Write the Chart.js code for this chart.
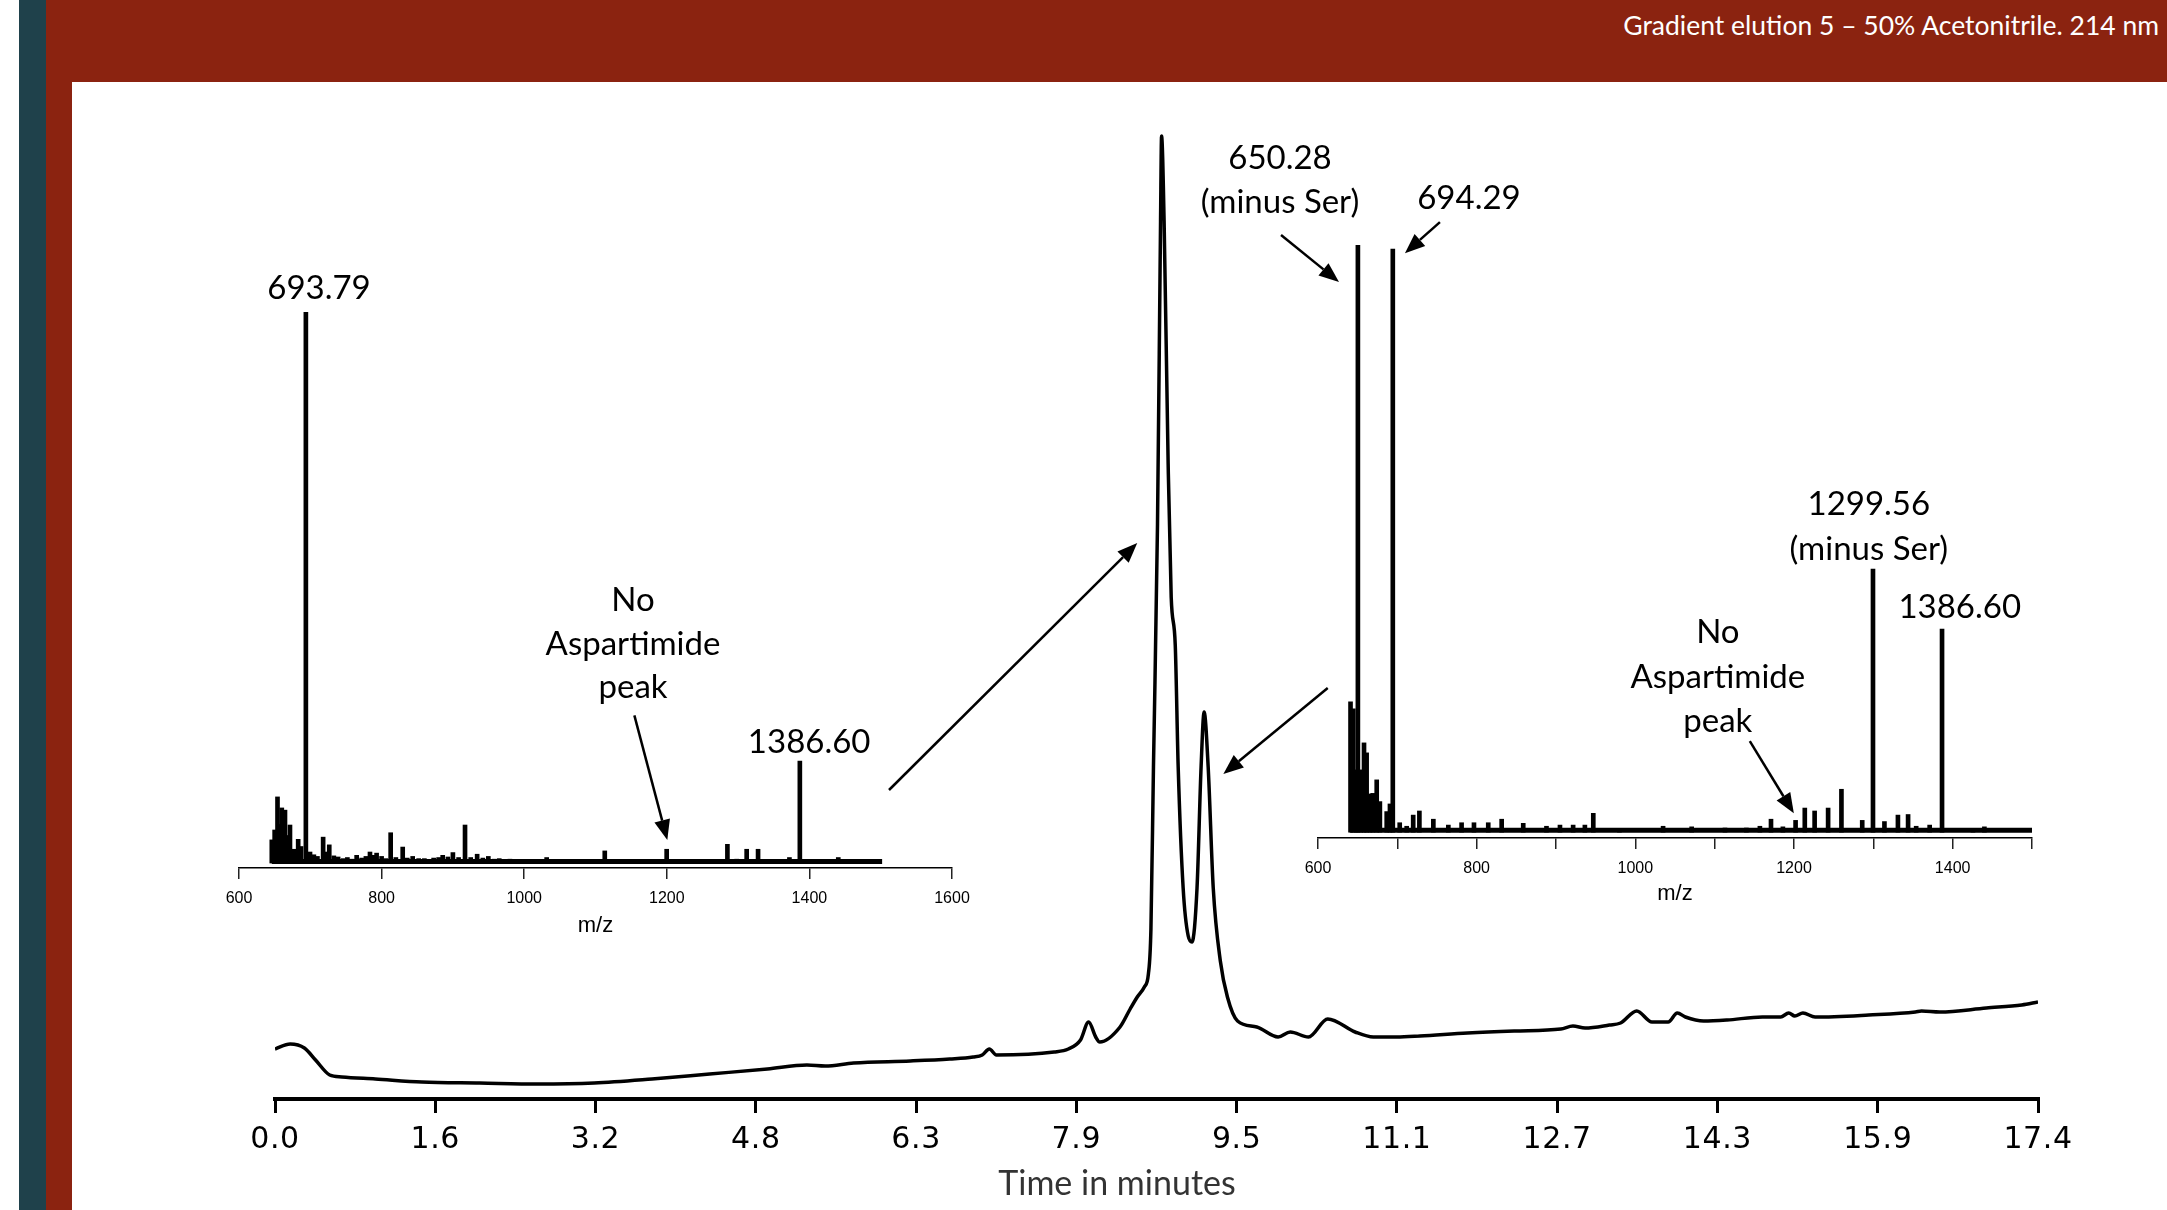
<!DOCTYPE html>
<html>
<head>
<meta charset="utf-8">
<script src="https://cdn.jsdelivr.net/npm/chart.js@4.4.1/dist/chart.umd.min.js"></script>
<style>
  html, body { margin: 0; padding: 0; background: #fff; width: 2167px; height: 1210px; overflow: hidden; }
  .strip-teal { position: absolute; left: 19px; top: 0; width: 27px; height: 1210px; background: #1f414b; }
  .strip-red { position: absolute; left: 46px; top: 0; width: 26px; height: 1210px; background: #8b2310; }
  .header { position: absolute; left: 46px; top: 0; width: 2121px; height: 82px; background: #8b2310; }
  .subtitle { position: absolute; right: 8px; top: 9px; color: #fff; font: 26.5px Lato, sans-serif; }
  canvas { position: absolute; }
</style>
</head>
<body>
<div class="strip-teal"></div>
<div class="strip-red"></div>
<div class="header"><div class="subtitle">Gradient elution 5 – 50% Acetonitrile. 214 nm</div></div>
<canvas id="mainChart" width="2167" height="1210" style="left:0;top:0"></canvas>
<canvas id="leftSpec" width="800" height="720" style="left:200px;top:250px"></canvas>
<canvas id="rightSpec" width="930" height="800" style="left:1150px;top:120px"></canvas>
<script>
// HPLC trace (time in minutes, absorbance in arbitrary units)
const timeMin = [0.00, 0.15, 0.29, 0.40, 0.54, 0.66, 0.99, 1.45, 2.02, 2.59, 3.15, 3.72, 4.29, 4.86, 5.25, 5.43, 5.71,
  6.27, 6.66, 6.89, 6.98, 7.05, 7.12, 7.69, 7.83, 7.95, 8.03, 8.10, 8.14, 8.34, 8.44, 8.51, 8.58, 8.62, 8.645, 8.67,
  8.71, 8.74, 8.75, 8.775, 8.815, 8.845, 8.885, 8.914, 8.963, 9.013, 9.05, 9.10, 9.14, 9.17, 9.21, 9.26, 9.33, 9.40,
  9.50, 9.69, 9.90, 10.02, 10.20, 10.39, 10.66, 10.84, 11.07, 11.30, 11.77, 12.23, 12.69, 12.81, 12.93, 13.17,
  13.28, 13.44, 13.59, 13.75, 13.84, 13.92, 14.10, 14.33, 14.68, 14.86, 14.94, 15.00, 15.08, 15.20, 15.73,
  16.19, 16.25, 16.43, 16.89, 17.24, 17.40];
const absorbance = [50, 55, 51, 39, 24, 22, 20, 17, 16, 15, 16, 20, 25, 30, 34, 33, 36,
  38, 40, 42, 44, 50, 44, 47, 50, 59, 77, 62, 57, 72, 90, 102, 112, 125, 170, 332,
  575, 878, 963, 878, 635, 502, 454, 332, 211, 163, 157, 211, 332, 387, 332, 211, 138, 102,
  78, 72, 62, 67, 62, 80, 67, 62, 62, 63, 66, 68, 70, 73, 71, 74,
  76, 88, 77, 77, 86, 82, 78, 79, 82, 82, 86, 83, 86, 82, 84,
  87, 88, 87, 91, 94, 97];
const timeTickLabels = ['0.0', '1.6', '3.2', '4.8', '6.3', '7.9', '9.5', '11.1', '12.7', '14.3', '15.9', '17.4'];

// mass spectrum of the first peak
const leftMz = [646, 650, 654, 657, 660, 664.5, 668, 671.5, 677, 683, 687, 693.79, 699.6, 705, 710, 718, 722, 726.6,
  733, 739, 746, 752, 758, 765, 772, 778, 783.7, 788, 793, 800, 806, 812.7, 820, 829.6, 836, 843.6, 852, 860, 873,
  880, 885.7, 893, 900, 908, 917, 925, 934, 942, 949.7, 958, 965, 980, 993, 1000, 1015, 1031.5, 1045, 1060, 1080,
  1095, 1113, 1125, 1140, 1170, 1185, 1199.8, 1215, 1230, 1245, 1260, 1272, 1285, 1298, 1312, 1328, 1345, 1360,
  1372, 1386.6, 1398, 1410, 1425, 1440.5, 1455, 1470, 1488];
const leftIntensity = [4.2, 6, 12.0, 7, 10, 9.6, 5, 6.9, 2.5, 4.3, 3, 100, 2, 1.5, 1.2, 4.7, 2, 3.3,
  1.3, 1.1, 0.8, 1.0, 0.7, 1.4, 0.9, 1.2, 2, 1.4, 1.8, 1.2, 0.8, 5.5, 1.0, 2.9, 0.9, 1.2, 0.8, 0.8, 0.9,
  1.0, 1.4, 1.1, 1.9, 1.0, 6.9, 1.0, 1.6, 0.9, 1.2, 0.7, 0.8, 0.7, 0.6, 0.6, 0.6, 1.0, 0.5, 0.6, 0.6,
  0.5, 2.2, 0.5, 0.6, 0.6, 0.5, 2.5, 0.5, 0.6, 0.5, 0.6, 0.5, 3.4, 0.7, 2.5, 2.5, 0.6, 0.6,
  1.0, 18.5, 0.6, 0.6, 0.5, 1.0, 0.5, 0.5, 0.4];
const leftRange = [646, 1502];

// mass spectrum of the second peak
const rightMz = [641, 644.5, 648, 650.28, 653.8, 658, 661.3, 665.5, 669, 674, 678, 686.6, 690.7, 694.29, 703, 711.8,
  720, 727.8, 745.4, 764.3, 781, 796.6, 814.6, 831.5, 858.7, 888, 905, 921.6, 936.4, 947, 980, 1035, 1071, 1113,
  1140, 1157, 1171, 1186, 1202, 1213.6, 1226, 1243, 1259.8, 1286, 1299.56, 1314, 1331, 1343.8, 1354, 1371,
  1386.6, 1425.6, 1440];
const rightIntensity = [22.2, 21, 10.6, 100, 10.6, 15.2, 13.5, 6.5, 6.6, 8.9, 5.2, 3.5, 4.8, 99.3, 1.6, 1.0,
  2.9, 3.6, 2.2, 1.2, 1.6, 1.6, 1.6, 2.2, 1.5, 1.0, 1.2, 1.2, 1.2, 3.2, 0.6, 1.0, 0.9, 0.7,
  0.7, 1.0, 2.2, 0.9, 2.0, 4.1, 3.6, 4.1, 7.3, 2.0, 44.8, 1.8, 2.9, 3.0, 1.0, 1.2,
  34.6, 0.5, 0.9];
const rightRange = [640, 1501];

Chart.defaults.font.family = 'Lato, sans-serif';
Chart.defaults.color = '#000';
Chart.defaults.animation = false;

function drawArrow(ctx, x1, y1, x2, y2) {
  const ang = Math.atan2(y2 - y1, x2 - x1);
  const len = 20, half = 8;
  const bx = x2 - len * Math.cos(ang), by = y2 - len * Math.sin(ang);
  ctx.beginPath();
  ctx.moveTo(x1, y1);
  ctx.lineTo(bx, by);
  ctx.stroke();
  ctx.beginPath();
  ctx.moveTo(x2, y2);
  ctx.lineTo(bx + half * Math.sin(ang), by - half * Math.cos(ang));
  ctx.lineTo(bx - half * Math.sin(ang), by + half * Math.cos(ang));
  ctx.closePath();
  ctx.fill();
}

// labels and arrows, placed in each chart's own data coordinates
const notesPlugin = {
  id: 'notes',
  afterDraw(chart) {
    const cfg = chart.options.plugins.notes;
    if (!cfg) return;
    const { ctx, scales: { x, y } } = chart;
    ctx.save();
    ctx.letterSpacing = '0px';
    ctx.fillStyle = '#000';
    ctx.strokeStyle = '#000';
    ctx.lineWidth = 2.5;
    ctx.textAlign = 'center';
    ctx.textBaseline = 'middle';
    (cfg.texts || []).forEach(t => {
      ctx.font = t[3] || '33px Lato, sans-serif';
      ctx.fillStyle = t[4] || '#000';
      ctx.fillText(t[0], x.getPixelForValue(t[1]), y.getPixelForValue(t[2]));
    });
    ctx.fillStyle = '#000';
    (cfg.arrows || []).forEach(a => drawArrow(ctx, x.getPixelForValue(a[0]), y.getPixelForValue(a[1]),
      x.getPixelForValue(a[2]), y.getPixelForValue(a[3])));
    ctx.restore();
  }
};

// the time labels are widely spaced in the original
const tickFont = '30px "DejaVu Sans", sans-serif';
const spacingPlugin = {
  id: 'spacing',
  beforeDraw(chart) {
    const ctx = chart.ctx;
    ctx.font = tickFont;
    const w = ctx.measureText('0.0').width;
    ctx.letterSpacing = Math.max(0, (49 - w) / 2).toFixed(1) + 'px';
  },
  afterDraw(chart) { chart.ctx.letterSpacing = '0px'; }
};

new Chart(document.getElementById('mainChart'), {
  type: 'line',
  data: {
    datasets: [{
      data: timeMin.map((t, i) => ({ x: t, y: absorbance[i] })),
      borderColor: '#000',
      borderWidth: 3.5,
      pointRadius: 0,
      cubicInterpolationMode: 'monotone'
    }]
  },
  options: {
    responsive: false,
    layout: { padding: { left: 275, right: 129, top: 99, bottom: 0 } },
    plugins: {
      legend: { display: false },
      tooltip: { enabled: false },
      notes: {
        texts: [['Time in minutes', 8.31, -85, '34px Lato, sans-serif', '#333']],
        arrows: [[6.06, 309, 8.51, 556], [10.39, 411, 9.36, 325]]
      }
    },
    scales: {
      x: {
        type: 'linear',
        min: 0,
        max: 17.4,
        afterBuildTicks: axis => {
          axis.ticks = timeTickLabels.map((l, i) => ({ value: i * 17.4 / (timeTickLabels.length - 1) }));
        },
        afterFit: axis => { axis.height = 111; },
        border: { display: true, color: '#000', width: 4 },
        grid: { drawOnChartArea: false, drawTicks: true, tickLength: 14, color: '#000', lineWidth: 3 },
        ticks: {
          autoSkip: false,
          maxRotation: 0,
          padding: 9,
          color: '#000',
          font: { family: '"DejaVu Sans", sans-serif', size: 30 },
          callback: (v, i) => timeTickLabels[i]
        }
      },
      y: { display: false, min: 0, max: 1000 }
    }
  },
  plugins: [spacingPlugin, notesPlugin]
});

function specChart(id, mz, inten, range, xMax, step, yMin, pad, axisH, titlePad, notes) {
  return new Chart(document.getElementById(id), {
    type: 'bar',
    data: {
      datasets: [
        {
          type: 'bar',
          data: mz.map((m, i) => ({ x: m, y: inten[i] })),
          backgroundColor: '#000',
          barThickness: 4
        },
        {
          type: 'line',
          data: range.map(m => ({ x: m, y: 0.3 })),
          borderColor: '#000',
          borderWidth: 5,
          pointRadius: 0
        }
      ]
    },
    options: {
      responsive: false,
      layout: { padding: pad },
      plugins: { legend: { display: false }, tooltip: { enabled: false }, notes: notes },
      scales: {
        x: {
          type: 'linear',
          min: 600,
          max: xMax,
          afterFit: axis => { axis.height = axisH; },
          offset: false,
          border: { display: true, color: '#000', width: 1.5 },
          grid: { drawOnChartArea: false, drawTicks: true, tickLength: 11, color: '#222', lineWidth: 1.5, offset: false },
          ticks: {
            stepSize: step,
            autoSkip: false,
            maxRotation: 0,
            padding: 10,
            color: '#000',
            font: { family: '"Liberation Sans", Arial, sans-serif', size: 16 },
            callback: v => (v % 200 === 0 ? String(v) : '')
          },
          title: {
            display: true,
            text: 'm/z',
            color: '#000',
            font: { family: '"Liberation Sans", Arial, sans-serif', size: 22 },
            padding: { top: 0, bottom: titlePad }
          }
        },
        y: { display: false, min: yMin, max: 100 }
      }
    },
    plugins: [notesPlugin]
  });
}

specChart('leftSpec', leftMz, leftIntensity, leftRange, 1600, 200, -0.9,
  { left: 39, right: 48, top: 62, bottom: 0 }, 102, 31, {
    texts: [['693.79', 712.2, 104.2], ['No', 1152.6, 47.7], ['Aspartimide', 1152.6, 39.7],
      ['peak', 1152.6, 31.8], ['1386.60', 1399.7, 21.9]],
    arrows: [[1154.5, 26.8, 1200.7, 4.2]]
  });

specChart('rightSpec', rightMz, rightIntensity, rightRange, 1500, 100, -1.0,
  { left: 168, right: 48, top: 125, bottom: 0 }, 82, 13, {
    texts: [['650.28', 552.1, 114.8], ['(minus Ser)', 552.1, 107.3], ['694.29', 790.3, 108.0],
      ['1299.56', 1294.3, 55.9], ['(minus Ser)', 1294.3, 48.2], ['1386.60', 1408.9, 38.2],
      ['No', 1104, 34.1], ['Aspartimide', 1104, 26.4], ['peak', 1104, 18.9]],
    arrows: [[553.4, 101.7, 626.5, 93.7], [753.7, 103.9, 709.6, 98.6], [1144.3, 15.5, 1199.8, 3.2]]
  });
</script>
</body>
</html>
